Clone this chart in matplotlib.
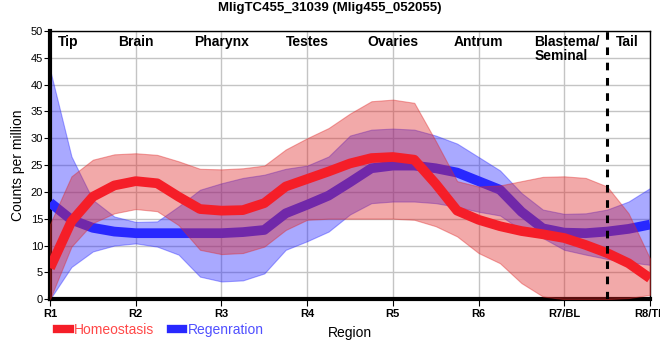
import numpy as np
import matplotlib
matplotlib.use('Agg')
import matplotlib.pyplot as plt
from matplotlib.lines import Line2D

plt.rcParams['font.family'] = ['Liberation Sans', 'DejaVu Sans']

# region positions (R1..R8), read every quarter step
x = np.arange(1, 8.01, 0.25)
tick_labels = ['R1', 'R2', 'R3', 'R4', 'R5', 'R6', 'R7/BL', 'R8/TL']
regions = ['Tip', 'Brain', 'Pharynx', 'Testes', 'Ovaries', 'Antrum', 'Blastema/\nSeminal', 'Tail']
region_pos = [1.21, 2, 3, 4, 5, 6, 6.65, 7.74]

hom_mean = [5.8, 14.5, 19.1, 21.2, 22.0, 21.6, 19.1, 16.8, 16.5, 16.6, 17.9, 21.0, 22.4, 23.8, 25.3,
            26.3, 26.5, 26.0, 21.5, 16.5, 14.8, 13.6, 12.7, 12.1, 11.4, 10.1, 8.6, 6.7, 3.9]
hom_hi = [14.0, 22.9, 26.0, 27.0, 27.2, 26.9, 25.7, 24.3, 24.2, 24.4, 24.9, 27.9, 30.0, 31.9, 34.6,
          36.9, 37.2, 36.6, 29.5, 22.0, 21.0, 21.2, 22.0, 22.8, 22.9, 22.6, 21.0, 16.0, 7.6]
hom_lo = [0, 9.8, 14.2, 16.0, 16.8, 16.4, 13.8, 9.2, 8.4, 8.6, 9.8, 12.9, 14.8, 15.0, 15.0,
          15.0, 15.0, 14.8, 13.6, 11.7, 8.6, 6.7, 3.0, 0.5, 0, 0, 0, 0.2, 0.8]

reg_mean = [18.0, 14.8, 13.3, 12.6, 12.3, 12.3, 12.3, 12.3, 12.3, 12.5, 12.9, 16.0, 17.6, 19.3, 21.8,
            24.4, 24.9, 24.9, 24.4, 23.6, 22.0, 20.4, 16.3, 13.2, 12.4, 12.3, 12.6, 13.1, 13.9]
reg_hi = [42.8, 26.6, 18.5, 15.4, 14.4, 14.5, 17.3, 20.4, 21.6, 22.6, 23.2, 24.3, 24.9, 26.6, 30.5,
          31.6, 31.8, 31.6, 30.5, 29.0, 26.5, 24.0, 19.8, 16.7, 15.9, 16.0, 16.7, 18.2, 20.7]
reg_lo = [0, 6.0, 8.9, 10.0, 10.4, 9.8, 8.3, 4.2, 3.3, 3.5, 4.8, 9.2, 10.8, 12.6, 15.8,
          17.9, 18.2, 18.2, 17.9, 17.2, 16.3, 15.6, 12.9, 11.4, 9.2, 8.3, 7.5, 6.9, 6.4]

red = '#f51e28'
blue = '#2828ff'

fig = plt.figure(figsize=(6.6, 3.6), dpi=100)
ax = fig.add_axes([0.0758, 0.169, 0.909, 0.745])

ax.fill_between(x, reg_lo, reg_hi, color=blue, alpha=0.4, lw=0.8, zorder=2)
ax.plot(x, reg_mean, color=blue, lw=7, solid_capstyle='butt', solid_joinstyle='round', zorder=3)
ax.fill_between(x, hom_lo, hom_hi, color='#e02828', alpha=0.4, lw=0.8, zorder=4)
ax.plot(x, hom_mean, color=red, lw=7, solid_capstyle='butt', solid_joinstyle='round', zorder=5)

ax.axvline(7.5, color='black', lw=2.2, ls=(0, (2.5, 2.5)), zorder=6)

for xp, name in zip(region_pos, regions):
    ha = 'left' if '\n' in name else 'center'
    ax.text(xp, 49.3, name, ha=ha, va='top', fontsize=10, fontweight='bold',
            linespacing=1.0, zorder=7)

ax.set_xlim(1, 8)
ax.set_ylim(0, 50)
ax.set_xticks(range(1, 9))
ax.set_xticklabels(tick_labels, fontsize=8, fontweight='bold')
ax.set_yticks(range(0, 51, 5))
ax.tick_params(axis='y', labelsize=8, length=4, pad=1)
ax.tick_params(axis='x', length=5, pad=2)
ax.grid(True, color='#c4c4c4', lw=1, zorder=1)
ax.set_axisbelow(True)

for side in ['left', 'bottom']:
    ax.spines[side].set_linewidth(3)
for side in ['top', 'right']:
    ax.spines[side].set_linewidth(1)

ax.set_xlabel('Region', fontsize=10, labelpad=5)
ax.set_ylabel('Counts per million', fontsize=10, labelpad=4)
fig.suptitle('MligTC455_31039 (Mlig455_052055)', fontsize=9.5, fontweight='bold', y=0.995)

handles = [Line2D([], [], color=red, lw=6), Line2D([], [], color=blue, lw=6)]
leg = fig.legend(handles, ['Homeostasis', 'Regenration'], loc='lower left',
                 bbox_to_anchor=(0.068, 0.03), ncol=2, frameon=False, fontsize=10,
                 handlelength=0.9, handletextpad=0.3, columnspacing=1.2)
for t, c in zip(leg.get_texts(), ['#ff4848', '#5050ff']):
    t.set_color(c)

fig.savefig('out.png', dpi=100)
